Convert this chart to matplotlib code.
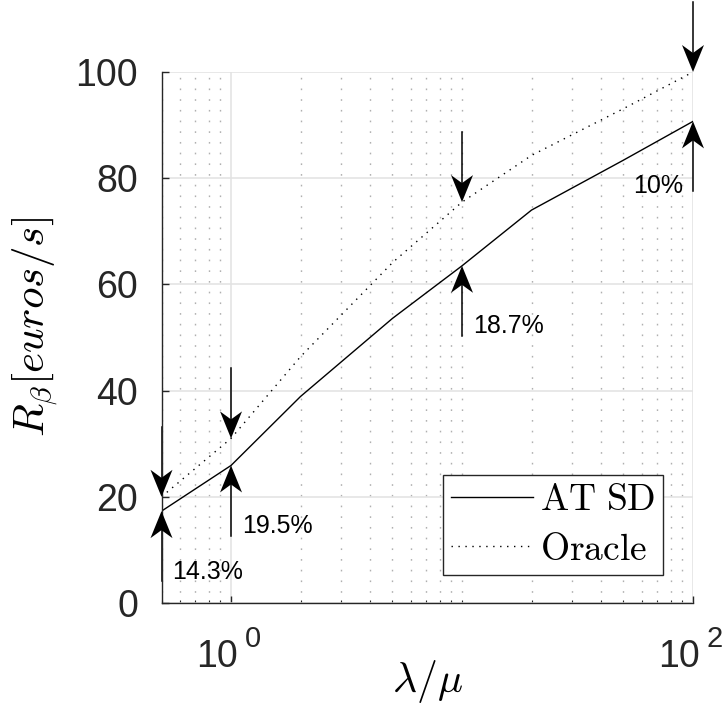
import numpy as np
import matplotlib
matplotlib.use("Agg")
import matplotlib.pyplot as plt
import matplotlib.transforms as mtransforms
from matplotlib.patches import Polygon
from matplotlib.ticker import FixedLocator, LogLocator, NullFormatter

# ---- data ----
load_ratio = [0.5, 1, 2, 5, 10, 20, 50, 100]
at_sd = [17.3, 25.9, 38.9, 53.6, 63.5, 74.0, 83.4, 90.7]
oracle = [20.0, 31.0, 46.4, 64.1, 75.5, 84.3, 93.1, 100.0]
gap_x = [0.5, 1, 10, 100]
gap_labels = ["14.3%", "19.5%", "18.7%", "10%"]
y_ticks = [0, 20, 40, 60, 80, 100]
x_major = [1, 100]

plt.rcParams["font.family"] = ["Liberation Sans", "DejaVu Sans"]
plt.rcParams["mathtext.fontset"] = "cm"

fig = plt.figure(figsize=(7.28, 7.06), dpi=100)
ax = fig.add_axes([161.5 / 728, 103 / 706, 531.5 / 728, 531 / 706])

ax.plot(load_ratio, at_sd, color="black", lw=1.0, label=r"$\mathrm{AT\ SD}$")
ax.plot(load_ratio, oracle, color="black", lw=1.0, ls=(0, (1, 4)),
        label=r"$\mathrm{Oracle}$")

ax.set_xscale("log")
ax.set_xlim(0.5, 100)
ax.set_ylim(0, 100)
ax.xaxis.set_major_locator(FixedLocator(x_major))
ax.xaxis.set_minor_locator(LogLocator(base=10, subs=np.arange(1, 10), numticks=50))
ax.xaxis.set_minor_formatter(NullFormatter())
ax.xaxis.set_major_formatter(NullFormatter())
ax.set_yticks(y_ticks)

ax.grid(True, which="major", color="#e2e2e2", lw=1.1, ls="-")
ax.grid(True, which="minor", axis="x", color="#b0b0b0", lw=1.0, ls=(0, (1.2, 6.5)))
ax.set_axisbelow(True)

for s in ["top", "right"]:
    ax.spines[s].set_visible(False)
for s in ["left", "bottom"]:
    ax.spines[s].set_color("#262626")
    ax.spines[s].set_linewidth(1.0)

ax.tick_params(axis="both", which="major", direction="in", length=5, width=1.0,
               color="#262626", labelcolor="#262626", labelsize=27)
ax.tick_params(axis="x", which="minor", direction="in", length=2.5, width=0.8,
               color="#262626")
ax.tick_params(axis="y", which="major", pad=17)

# x tick labels: "10" with a raised exponent, MATLAB style
for xt in x_major:
    ax.annotate("10", xy=(xt, 0), xycoords=("data", "axes fraction"),
                xytext=(5, -46), textcoords="offset points", ha="right",
                va="baseline", fontsize=27, color="#262626", annotation_clip=False)
    ax.annotate("%d" % int(round(np.log10(xt))), xy=(xt, 0),
                xycoords=("data", "axes fraction"), xytext=(10, -31.5),
                textcoords="offset points", ha="left", va="baseline",
                fontsize=21, color="#262626", annotation_clip=False)

ax.set_xlabel(r"$\lambda/\mu$", fontsize=30, va="baseline")
ax.xaxis.set_label_coords(0.5, -0.168)
ax.set_ylabel(r"$R_\beta[euros/s]$", fontsize=31)
ax.yaxis.set_label_coords(-0.19, 0.52)

# ---- arrows ----
ARROW_LEN = 13.2
HEAD = np.array([(0, 0), (11, -27), (0, -19), (-11, -27)]) / 100.0  # inches


def arrow_head(x, y, up):
    verts = HEAD if up else HEAD * np.array([1, -1])
    tr = fig.dpi_scale_trans + mtransforms.ScaledTranslation(x, y, ax.transData)
    ax.add_patch(Polygon(verts, closed=True, transform=tr, facecolor="black",
                         edgecolor="none", clip_on=False, zorder=4))


for gx, lab in zip(gap_x, gap_labels):
    i = load_ratio.index(gx)
    yo = oracle[i]
    ya = at_sd[i]
    ax.plot([gx, gx], [yo + ARROW_LEN, yo + 2], color="black", lw=1.1, clip_on=False)
    arrow_head(gx, yo, up=False)
    ax.plot([gx, gx], [ya - ARROW_LEN, ya - 2], color="black", lw=1.1, clip_on=False)
    arrow_head(gx, ya, up=True)
    last = gx == gap_x[-1]
    ax.annotate(lab, xy=(gx, ya - ARROW_LEN), xytext=(-7 if last else 8, 4 if last else 7),
                textcoords="offset points", ha="right" if last else "left",
                va="center", fontsize=18, color="black")

leg = ax.legend(loc="lower right", bbox_to_anchor=(0.944, 0.0527), borderaxespad=0,
                fontsize=27, handlelength=2.2, handletextpad=0.19, labelspacing=0.35,
                borderpad=0.2, fancybox=False, framealpha=1, edgecolor="#262626")
leg.get_frame().set_linewidth(1.0)

fig.savefig("out.png", dpi=100)
